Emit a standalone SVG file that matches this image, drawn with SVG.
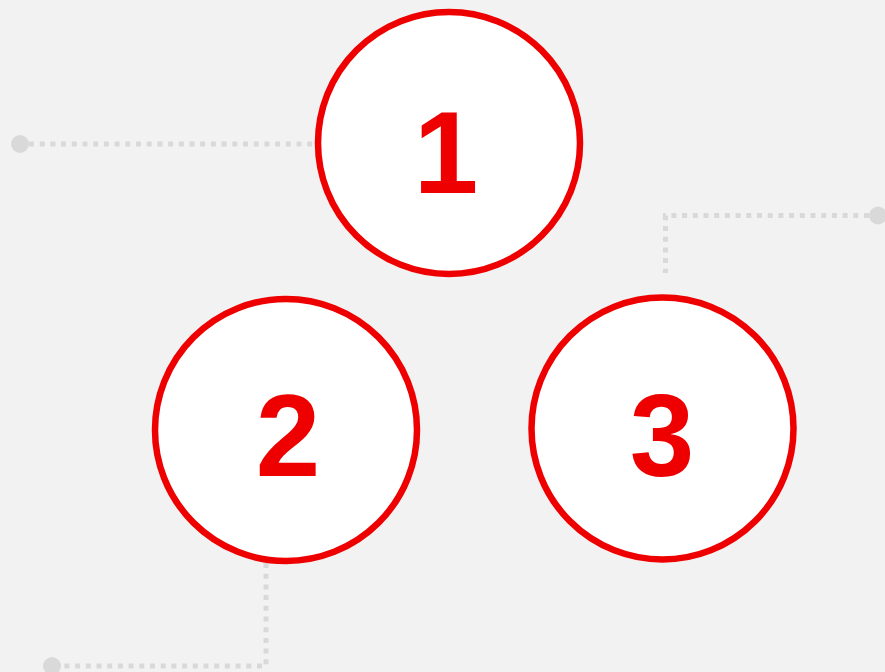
<svg xmlns="http://www.w3.org/2000/svg" width="885" height="672" viewBox="0 0 885 672">
<style>
.link{fill:none;stroke:#d9d9d9;stroke-width:5;stroke-dasharray:5 5.7}
.end{fill:#d9d9d9}
.ring{fill:#fff;stroke:#ee0000;stroke-width:6.5}
.num{font-family:"Liberation Sans",Arial,sans-serif;font-weight:bold;font-size:116px;fill:#ee0000;text-anchor:middle}
</style>
<rect width="885" height="672" fill="#f2f2f2"/>
<g id="connectors">
<path class="link" d="M29 144H318"/>
<circle class="end" cx="20" cy="144" r="9"/>
<path class="link" d="M869 215.5H665.5V273"/>
<circle class="end" cx="878" cy="215.5" r="9"/>
<path class="link" d="M266 563V666H61"/>
<circle class="end" cx="52" cy="666" r="9"/>
</g>
<g id="node1"><circle class="ring" cx="449" cy="143" r="131"/><text class="num" x="446" y="193">1</text></g>
<g id="node2"><circle class="ring" cx="286" cy="430" r="131"/><text class="num" x="288" y="476">2</text></g>
<g id="node3"><circle class="ring" cx="662.5" cy="428.5" r="131"/><text class="num" x="662" y="476">3</text></g>
</svg>
